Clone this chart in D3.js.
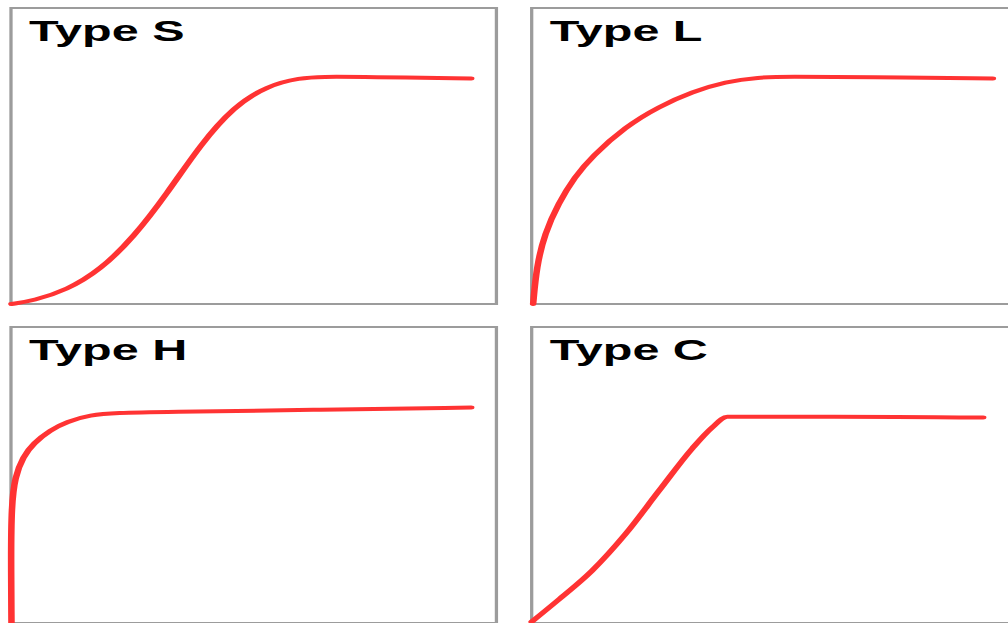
<!DOCTYPE html>
<html>
<head>
<meta charset="utf-8">
<script src="https://cdn.jsdelivr.net/npm/d3@7"></script>
<style>
  html, body { margin: 0; padding: 0; background: #fff; overflow: hidden; }
  svg { display: block; }
</style>
</head>
<body>
<svg id="chart"></svg>
<script>
// Panel titles (categories)
const categories = ["Type S", "Type L", "Type H", "Type C"];

// Curve values, x and y in percent of panel (0..100)
const sX = [0.1, 4.6, 11.5, 18.4, 25.3, 32.2, 39.0, 45.9, 52.8, 59.7, 63.8, 73.5, 94.8];
const sY = [0.0, 1.1, 4.7, 11.5, 22.6, 37.4, 53.8, 66.7, 73.8, 76.4, 76.8, 76.7, 76.2];

const lX = [0.3, 1.0, 2.7, 5.5, 8.9, 12.4, 19.3, 26.2, 33.1, 39.9, 46.8, 52.3, 69.2, 95.0];
const lY = [0.0, 12.6, 23.9, 34.0, 43.0, 49.8, 59.9, 66.7, 71.7, 75.1, 76.6, 76.8, 76.6, 76.2];

const hX = [0.1, 0.0, 0.1, 0.8, 2.5, 4.6, 8.1, 11.5, 16.3, 21.8, 30.8, 62.0, 94.8];
const hY = [0.0, 22.4, 39.3, 49.4, 56.2, 60.7, 65.2, 68.0, 70.3, 71.0, 71.3, 72.0, 72.8];

const cX = [0.0, 5.5, 12.4, 19.3, 26.2, 33.1, 37.2, 40.3, 62.3, 93.0];
const cY = [0.4, 7.8, 17.6, 30.0, 44.6, 59.0, 66.1, 69.7, 69.7, 69.4];

const seriesX = [sX, lX, hX, cX];
const seriesY = [sY, lY, hY, cY];
const curves = [d3.curveBasis, d3.curveBasis, d3.curveBasis, d3.curveMonotoneX];

// Layout (drawn in a coordinate system that is stretched horizontally)
const W = 1008, H = 623;
const stretch = 1.64;
const vbW = W / stretch;
const panel = 296;
const lefts = [6.7, 324.2];
const tops = [8, 327];

const svg = d3.select("#chart")
  .attr("width", W).attr("height", H)
  .attr("viewBox", `0 0 ${vbW} ${H}`)
  .attr("preserveAspectRatio", "none");

categories.forEach((name, i) => {
  const col = i % 2, row = Math.floor(i / 2);
  const x0 = lefts[col], y0 = tops[row];
  const g = svg.append("g");

  const x = d3.scaleLinear().domain([0, 100]).range([x0, x0 + panel]);
  const y = d3.scaleLinear().domain([0, 100]).range([y0 + panel, y0]);

  g.append("rect")
    .attr("x", x0).attr("y", y0)
    .attr("width", panel).attr("height", panel)
    .attr("fill", "#fff")
    .attr("stroke", "#9c9c9c")
    .attr("stroke-width", 2);

  g.append("text")
    .attr("x", x0 + 11.0).attr("y", y0 + 33.4)
    .attr("font-family", "'Liberation Sans', Arial, sans-serif")
    .attr("font-weight", "bold")
    .attr("font-size", 29.6)
    .attr("fill", "#000")
    .text(name);

  const pts = seriesX[i].map((v, k) => [v, seriesY[i][k]]);
  const line = d3.line()
    .x(d => x(d[0])).y(d => y(d[1]))
    .curve(curves[i]);

  g.append("path")
    .attr("d", line(pts))
    .attr("fill", "none")
    .attr("stroke", "#ff3333")
    .attr("stroke-width", 4)
    .attr("stroke-linecap", "round")
    .attr("stroke-linejoin", "round");
});
</script>
</body>
</html>
